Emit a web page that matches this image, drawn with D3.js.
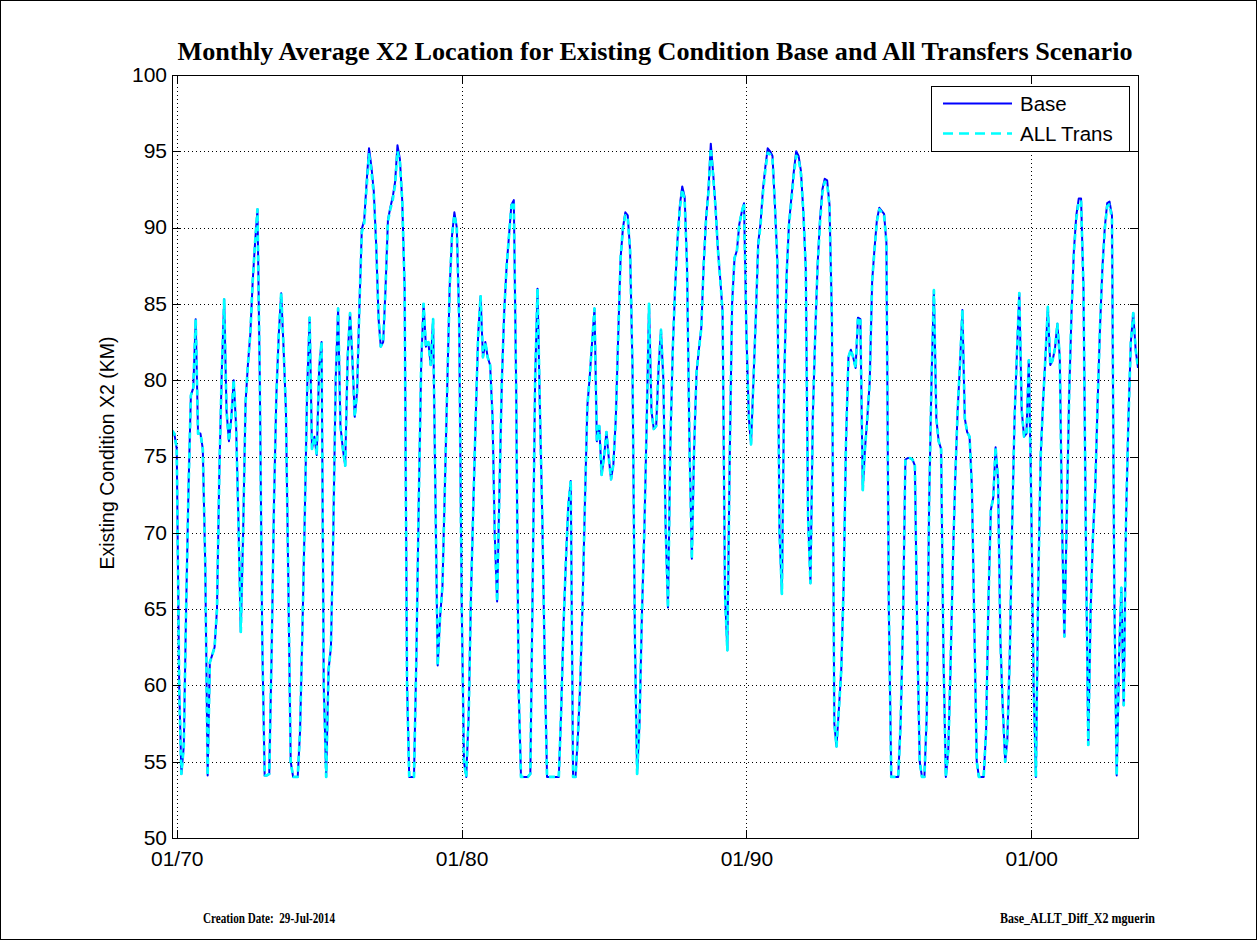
<!DOCTYPE html>
<html><head><meta charset="utf-8">
<script src="https://cdn.jsdelivr.net/npm/d3@7"></script>
<style>body{margin:0;background:#fff}</style>
</head><body>
<svg id="chart" width="1257" height="940"></svg>
<script>
// ---------------- data ----------------
const titleText = "Monthly Average X2 Location for Existing Condition Base and All Transfers Scenario";
const yLabelText = "Existing Condition X2 (KM)";
const seriesNames = ["Base", "ALL Trans"];
const firstMonth = "1969-10";   // water year 1970 .. 2003, end-of-month values
const yTicks = [50, 55, 60, 65, 70, 75, 80, 85, 90, 95, 100];
const xTickDates = ["1970-01-01", "1980-01-01", "1990-01-01", "2000-01-01"];
const xTickLabels = ["01/70", "01/80", "01/90", "01/00"];
const footerLeft = "Creation Date:  29-Jul-2014";
const footerRight = "Base_ALLT_Diff_X2 mguerin";

// monthly X2 (km), one row per water year (Oct..Sep)
const base = [
 76.7,76.5,75.5,60,54.2,56,65,73,79,79.5,84,76.5,
 76.5,75.5,68,54.1,61.5,62,62.5,65,74,80.5,85.3,78,
 76,77.5,80,77,71,63.5,70,78.5,81,83,86.5,89,
 91.2,80,63,54.1,54.1,54.2,62,72,79,83,85.7,82.2,
 78,67,55,54,54,54,57,63.8,71.2,79.6,84.1,75.5,
 76.3,75.1,80.8,82.5,60,54,61,62.5,70,80,84.7,77,
 75.5,74.4,81.5,84.4,81.5,77.6,79.2,85,89.9,90.5,93,95.2,
 94,92.4,88.9,84,82.2,82.5,86,90.5,91.3,92,93,95.4,
 94.5,91.8,86,60,54,54,54,62,72,81,85,82.2,
 82.5,81,84,72,61.3,64.5,66.5,73,79.5,86,89.5,91,
 90,84,66,55,54,58,66,72,77.6,83,85.5,81.5,
 82.5,81.5,81,77.6,70,65.5,72.8,80,84.5,87.5,89.5,91.5,
 91.8,79.6,60,54,54,54,54,54.2,66.7,80,86,78.3,
 71,62,54,54,54,54,54,54,58.3,64,68.3,71.8,
 73.4,54,54,56.7,60,65.4,72,78.3,80.2,82.5,84.7,76,
 77,73.8,75,76.6,75,73.5,74.5,77.5,82.8,88,90,91,
 90.8,88.5,80.8,63,54.2,57.5,64.5,70,77,85,78,76.8,
 77,80.8,83.3,80,70.5,65.1,75.7,82,86,89.2,91.5,92.7,
 92,87.5,76,68.3,75.5,80.5,82,83.4,87.5,90.6,92.5,95.5,
 93.5,91.3,88.5,86.5,84.5,66,62.3,75,85,88,88.5,90.2,
 91,91.6,83,77.5,75.8,80,84.1,89,90.3,92.5,94,95.2,
 95,94.7,91.5,87.8,70,66,80,87,90.3,92,93.7,95,
 94.7,93.7,91,87.3,71,66.7,77.6,83,87.5,90.5,92.5,93.2,
 93.1,91.5,84,57.5,56,58.5,61,66.7,76,81.5,82,81.5,
 80.8,84.1,84,72.8,75.5,77.6,79.9,86.5,88.6,90.5,91.3,91.1,
 90.9,89,65,54,54,54,54,57.5,64,74.8,74.9,74.9,
 74.8,74.4,63,55,54,54,58,72,80,85.9,77.5,76,
 75.5,62,54,55.7,61,68,73.5,78,81,84.6,77.5,76.6,
 76.3,73,64,55,54,54,54,57,65.5,71.5,72.3,75.6,
 73.5,63,58.5,55,56.5,62,70.5,77.5,81.7,85.7,78,76.3,
 76.5,81.3,72,60,54,67,75,78.6,81.5,84.8,81,81.3,
 82.1,83.7,81.5,70,63.2,71.2,79,84.5,88.5,90.8,91.9,91.9,
 86,70,56.1,65,69.6,73,78.5,83.5,87.3,90,91.6,91.7,
 90.8,66,54.1,62,66.4,58.7,71,77.6,82.5,84.4,82,80.8
];
const allTrans = [
 76.7,76.5,75.5,60,54.2,56,65,73,79,79.5,84,76.5,
 76.5,75.5,68,54.1,61.5,62,62.5,65,74,80.5,85.3,78,
 76,77.5,80,77,71,63.5,70,78.5,81,83,86.5,89,
 91.2,80,63,54.1,54.1,54.2,62,72,79,83,85.7,82.2,
 78,67,55,54,54,54,57,63.8,71.2,79.6,84.1,75.5,
 76.3,75.1,80.8,82.5,60,54,61,62.5,70,80,84.7,77,
 75.5,74.4,81.5,84.4,81.5,77.6,79.2,85,89.7,90.3,92.7,94.8,
 93.7,92.2,88.9,84,82.2,82.5,86,90.4,91.2,91.8,92.8,95.0,
 94.3,91.8,86,60,54,54,54,62,72,81,85,82.2,
 82.5,81,84,72,61.3,64.5,66.5,73,79.5,86,89.5,90.8,
 90,84,66,55,54,58,66,72,77.6,83,85.5,81.5,
 82.5,81.5,81,77.6,70,65.5,72.8,80,84.5,87.5,89.5,91.4,
 91.7,79.6,60,54,54,54,54,54.2,66.7,80,86,78.3,
 71,62,54,54,54,54,54,54,58.3,64,68.3,71.8,
 73.4,54,54,56.7,60,65.4,72,78.3,80.2,82.5,84.7,76,
 77,73.8,75,76.6,75,73.5,74.5,77.5,82.8,88,90,90.8,
 90.6,88.5,80.8,63,54.2,57.5,64.5,70,77,85,78,76.8,
 77,80.8,83.3,80,70.5,65.1,75.7,82,86,89.2,91.3,92.5,
 91.8,87.5,76,68.3,75.5,80.5,82,83.4,87.5,90.5,92.3,95.2,
 93.3,91.3,88.5,86.5,84.5,66,62.3,75,85,88,88.5,90.2,
 91,91.6,83,77.5,75.8,80,84.1,88.8,90.2,92.3,93.8,94.9,
 94.8,94.5,91.5,87.8,70,66,80,87,90.2,91.8,93.5,94.7,
 94.5,93.5,91,87.3,71,66.7,77.6,83,87.4,90.3,92.3,93.0,
 92.9,91.4,84,57.5,56,58.5,61,66.7,76,81.5,82,81.5,
 80.8,84.1,84,72.8,75.5,77.6,79.9,86.5,88.5,90.4,91.2,91.0,
 90.8,89,65,54,54,54,54,57.5,64,74.8,74.9,74.9,
 74.8,74.4,63,55,54,54,58,72,80,85.9,77.5,76,
 75.5,62,54,55.7,61,68,73.5,78,81,84.6,77.5,76.6,
 76.3,73,64,55,54,54,54,57,65.5,71.5,72.3,75.6,
 73.5,63,58.5,55,56.5,62,70.5,77.5,81.7,85.7,78,76.3,
 76.5,81.3,72,60,54,67,75,78.6,81.5,84.8,81,81.3,
 82.1,83.7,81.5,70,63.2,71.2,79,84.5,88.4,90.6,91.7,91.7,
 86,70,56.1,65,69.6,73,78.5,83.5,87.2,89.9,91.4,91.5,
 90.6,66,54.1,62,66.4,58.7,71,77.6,82.5,84.4,82,80.8
];

// ---------------- layout ----------------
const W = 1257, H = 940;
const plot = {left: 172, right: 1138, top: 75, bottom: 838};
const svg = d3.select("#chart");

// end-of-month timestamps (plotted at start of following month)
const p = firstMonth.split("-").map(Number);
const t0 = new Date(Date.UTC(p[0], p[1] - 1, 1));
const dates = base.map((_, i) => d3.utcMonth.offset(t0, i + 1));

const x = d3.scaleUtc()
  .domain([dates[0], dates[dates.length - 1]])
  .range([plot.left, plot.right]);
const y = d3.scaleLinear().domain([50, 100]).range([plot.bottom, plot.top]);

// figure border
svg.append("rect").attr("x", 0.5).attr("y", 0.5).attr("width", W - 1).attr("height", H - 1)
  .attr("fill", "#fff").attr("stroke", "#000").attr("stroke-width", 1);

// plot background
svg.append("rect").attr("x", plot.left).attr("y", plot.top)
  .attr("width", plot.right - plot.left).attr("height", plot.bottom - plot.top)
  .attr("fill", "#fff");

// grid
const grid = svg.append("g").attr("stroke", "#000").attr("stroke-width", 1)
  .attr("stroke-dasharray", "1,3").attr("shape-rendering", "crispEdges");
grid.selectAll("line.h").data(yTicks.slice(1, -1)).join("line")
  .attr("x1", plot.left).attr("x2", plot.right)
  .attr("y1", d => Math.round(y(d)) + 0.5).attr("y2", d => Math.round(y(d)) + 0.5);
const xTickVals = xTickDates.map(s => new Date(s + "T00:00:00Z"));
grid.selectAll("line.v").data(xTickVals).join("line")
  .attr("y1", plot.top).attr("y2", plot.bottom)
  .attr("x1", d => Math.round(x(d)) + 0.5).attr("x2", d => Math.round(x(d)) + 0.5);

// data lines
svg.append("clipPath").attr("id", "clip").append("rect")
  .attr("x", plot.left).attr("y", plot.top)
  .attr("width", plot.right - plot.left).attr("height", plot.bottom - plot.top);
const line = d3.line().x((d, i) => x(dates[i])).y(d => y(d));
const lines = svg.append("g").attr("clip-path", "url(#clip)");
lines.append("path").datum(base).attr("d", line)
  .attr("fill", "none").attr("stroke", "#0000ff").attr("stroke-width", 2)
  .attr("stroke-linejoin", "round");
lines.append("path").datum(allTrans).attr("d", line)
  .attr("fill", "none").attr("stroke", "#00ffff").attr("stroke-width", 2.7)
  .attr("stroke-dasharray", "6,4").attr("stroke-linejoin", "round");

// axes
const fontSans = "'Liberation Sans', Arial, sans-serif";
const tickLen = 8;
const axL = d3.axisLeft(y).tickValues(yTicks).tickSizeInner(-tickLen).tickSizeOuter(0).tickPadding(5);
const axR = d3.axisRight(y).tickValues(yTicks).tickSizeInner(-tickLen).tickSizeOuter(0).tickFormat("");
const axB = d3.axisBottom(x).tickValues(xTickVals).tickSizeInner(-tickLen).tickSizeOuter(0).tickPadding(13)
  .tickFormat((d, i) => xTickLabels[i]);
const axT = d3.axisTop(x).tickValues(xTickVals).tickSizeInner(-tickLen).tickSizeOuter(0).tickFormat("");

function styleAxis(g) {
  g.select(".domain").remove();
  g.selectAll(".tick line").attr("stroke", "#000").attr("shape-rendering", "crispEdges");
  g.selectAll("text").attr("fill", "#000").style("font-family", fontSans).style("font-size", "21px");
}
svg.append("g").attr("transform", `translate(${plot.left},0)`).call(axL).call(styleAxis)
  .selectAll("text").attr("dy", "0.3em");
svg.append("g").attr("transform", `translate(${plot.right},0)`).call(axR).call(styleAxis);
svg.append("g").attr("transform", `translate(0,${plot.bottom})`).call(axB).call(styleAxis);
svg.append("g").attr("transform", `translate(0,${plot.top})`).call(axT).call(styleAxis);

// box
svg.append("rect").attr("x", plot.left + 0.5).attr("y", plot.top + 0.5)
  .attr("width", plot.right - plot.left).attr("height", plot.bottom - plot.top)
  .attr("fill", "none").attr("stroke", "#000").attr("stroke-width", 1)
  .attr("shape-rendering", "crispEdges");

// title
const title = svg.append("text").attr("x", (plot.left + plot.right) / 2).attr("y", 60)
  .attr("text-anchor", "middle").style("font-family", "'Liberation Serif', 'Times New Roman', serif")
  .style("font-weight", "bold").style("font-size", "22px").text(titleText);
const tw = title.node().getComputedTextLength();
title.style("font-size", (22 * 955 / tw).toFixed(2) + "px");

// y label
svg.append("text").attr("transform", "translate(114,453) rotate(-90)")
  .attr("text-anchor", "middle").style("font-family", fontSans).style("font-size", "19.5px")
  .text(yLabelText);

// legend
const lg = svg.append("g");
lg.append("rect").attr("x", 931.5).attr("y", 86.5).attr("width", 198).attr("height", 65)
  .attr("fill", "#fff").attr("stroke", "#000").attr("stroke-width", 1);
const legendItems = [
  {name: seriesNames[0], color: "#0000ff", dash: null, w: 2, yy: 103.5},
  {name: seriesNames[1], color: "#00ffff", dash: "10,6", w: 2.5, yy: 133.5}
];
legendItems.forEach(it => {
  lg.append("line").attr("x1", 943).attr("x2", 1012).attr("y1", it.yy).attr("y2", it.yy)
    .attr("stroke", it.color).attr("stroke-width", it.w).attr("stroke-dasharray", it.dash);
  lg.append("text").attr("x", 1020).attr("y", it.yy + 7.3).style("font-family", fontSans)
    .style("font-size", "20.5px").text(it.name);
});

// footer (condensed serif, stretched to the reference's text widths)
const serif = "'Liberation Serif', 'Times New Roman', serif";
function footerText(txt, x0, y0, targetW) {
  svg.append("text").attr("x", x0).attr("y", y0).style("font-family", serif)
    .style("font-weight", "bold").style("font-size", "14px")
    .style("white-space", "pre").attr("xml:space", "preserve")
    .attr("textLength", targetW).attr("lengthAdjust", "spacingAndGlyphs").text(txt);
}
footerText(footerLeft, 203, 923, 132);
footerText(footerRight, 1000, 923, 155);
</script>
</body></html>
